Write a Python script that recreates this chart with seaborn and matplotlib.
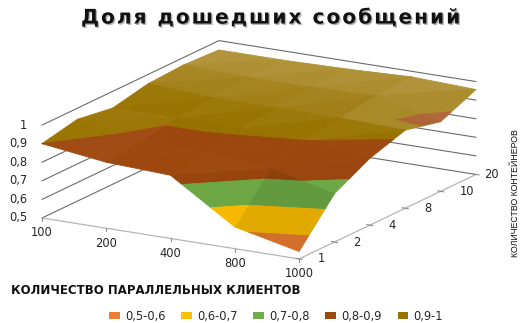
import numpy as np
import matplotlib
matplotlib.use("Agg")
import matplotlib.pyplot as plt
import matplotlib.patheffects as pe
from matplotlib.patches import Patch
from mpl_toolkits.mplot3d import proj3d
from mpl_toolkits.mplot3d.art3d import Poly3DCollection
import seaborn as sns

sns.set_theme(style="white")

# Delivered-message share by client count (columns) and container count (rows)
clients = ["100", "200", "400", "800", "1000"]
containers = ["1", "2", "4", "8", "10", "20"]
share_c1 = [0.90, 0.855, 0.84, 0.617, 0.54]
share_c2 = [0.94, 0.88, 0.87, 0.84, 0.76]
share_c4 = [0.91, 0.91, 0.91, 0.90, 0.86]
share_c8 = [0.95, 0.93, 0.93, 0.93, 0.92]
share_c10 = [0.96, 0.95, 0.95, 0.96, 0.875]
share_c20 = [0.95, 0.95, 0.957, 0.97, 0.957]
z_ticks = [0.5, 0.6, 0.7, 0.8, 0.9, 1.0]
z_labels = ["0,5", "0,6", "0,7", "0,8", "0,9", "1"]
band_edges = [0.5, 0.6, 0.7, 0.8, 0.9, 1.0]
band_labels = ["0,5-0,6", "0,6-0,7", "0,7-0,8", "0,8-0,9", "0,9-1"]
band_colors = ["#ED7D31", "#FFC000", "#70AD47", "#9E480E", "#997300"]

W, H = 523, 323
BOX = np.array([297.0, 354.0, 96.7])
grid = np.array([share_c1, share_c2, share_c4, share_c8, share_c10, share_c20])
nx, ny = len(clients), len(containers)
palette = sns.color_palette(band_colors)


def clip_band(tri, lo, hi):
    """Cut a triangle down to the part lying between two heights."""
    poly = [np.asarray(p, float) for p in tri]
    for level, keep_above in ((lo, True), (hi, False)):
        kept = []
        for a, b in zip(poly, poly[1:] + poly[:1]):
            ina = a[2] >= level if keep_above else a[2] <= level
            inb = b[2] >= level if keep_above else b[2] <= level
            if ina:
                kept.append(a)
            if ina != inb:
                t = (level - a[2]) / (b[2] - a[2])
                kept.append(a + t * (b - a))
        poly = kept
        if not poly:
            return []
    return poly


def facet_color(base, tri):
    """Light a facet from its normal, and fade it towards the back wall."""
    scale = BOX / np.array([nx - 1, ny - 1, 0.5])
    p = np.asarray(tri) * scale
    n = np.cross(p[1] - p[0], p[2] - p[0])
    n = n / np.linalg.norm(n) * np.sign(n[2])
    light = np.array([0.42, 0.62, 0.0])
    s = float(np.dot(n, light)) * 0.55 + 0.02
    c = np.array(base)
    c = c + (1 - c) * s if s > 0 else c * (1 + s)
    depth = np.mean(np.asarray(tri)[:, 1]) / (ny - 1)
    fade = np.clip((depth - 0.45) / 0.55, 0, 1) * 0.24
    return tuple(np.clip(c + (1 - c) * fade, 0, 1))


fig = plt.figure(figsize=(W / 100, H / 100), dpi=100, facecolor="white")
ax = fig.add_axes([0.1, 0.1, 0.8, 0.8], projection="3d", computed_zorder=False)
ax.set_proj_type("ortho")
ax.view_init(elev=16, azim=-60)
ax.set_box_aspect(BOX)
ax.set_xlim(0, nx - 1)
ax.set_ylim(0, ny - 1)
ax.set_zlim(z_ticks[0], z_ticks[-1])
ax.set_axis_off()
ax.patch.set_alpha(0)


def to_pixels(x, y, z):
    ax.M = ax.get_proj()
    u, v, _ = proj3d.proj_transform(x, y, z, ax.M)
    return ax.transData.transform((u, v))


# Fit the axes box so the floor corner and the far top corner fall where wanted
fig.canvas.draw()
target_a = np.array([42.0, H - 218.0])
target_b = np.array([476.0, H - 82.0])
for _ in range(3):
    a = to_pixels(0, 0, 0.5)
    b = to_pixels(nx - 1, ny - 1, 1.0)
    k = (target_b[0] - target_a[0]) / (b[0] - a[0])
    pos = ax.get_position(original=True)
    cx, cy = pos.x0 + pos.width / 2, pos.y0 + pos.height / 2
    w, h = pos.width * k, pos.height * k
    ax.set_position([cx - w / 2, cy - h / 2, w, h])
    fig.canvas.draw()
    a = to_pixels(0, 0, 0.5)
    shift = (target_a - a) / np.array([W, H])
    pos = ax.get_position(original=True)
    ax.set_position([pos.x0 + shift[0], pos.y0 + shift[1], pos.width, pos.height])
    fig.canvas.draw()

# Wall grid lines behind the surface
for z in z_ticks:
    ax.plot([0, 0, nx - 1], [0, ny - 1, ny - 1], [z, z, z], color="#6b6b6b", lw=0.8, zorder=1)
# Floor edges and their tick marks
ax.plot([0, nx - 1, nx - 1], [0, 0, ny - 1], [0.5, 0.5, 0.5], color="#b5b5b5", lw=0.9, zorder=1)
for i in range(nx):
    ax.plot([i, i], [0, 0], [0.5, 0.484], color="#8c8c8c", lw=0.8, zorder=1)
for j in range(ny):
    ax.plot([nx - 1.05, nx - 0.95], [j, j], [0.5, 0.5], color="#8c8c8c", lw=0.8, zorder=1)

# Surface: every grid cell is two triangles, each cut along the band edges
polys, colors = [], []
for j in range(ny - 1):
    for i in range(nx - 1):
        p00 = (i, j, grid[j, i])
        p10 = (i + 1, j, grid[j, i + 1])
        p01 = (i, j + 1, grid[j + 1, i])
        p11 = (i + 1, j + 1, grid[j + 1, i + 1])
        for tri in ((p00, p10, p11), (p00, p11, p01)):
            for b, base in enumerate(palette):
                piece = clip_band(tri, band_edges[b], band_edges[b + 1])
                if len(piece) >= 3:
                    polys.append(piece)
                    colors.append(facet_color(base, tri))
surface = Poly3DCollection(polys, facecolors=colors, edgecolors=colors, linewidths=0.6, zsort="average")
surface.set_zorder(2)
ax.add_collection3d(surface)

tick_font = dict(fontsize=8.3, family="DejaVu Sans", color="#262626", annotation_clip=False)


def label_at(text, point, dx, dy, ha, va="center"):
    x, y, z = point
    u, v, _ = proj3d.proj_transform(x, y, z, ax.get_proj())
    ax.annotate(text, xy=(u, v), xytext=(dx, dy), textcoords="offset pixels", ha=ha, va=va, **tick_font)


for z, text in zip(z_ticks, z_labels):
    label_at(text, (0, 0, z), -15, 0, "right")
for i, text in enumerate(clients):
    label_at(text, (i, 0, 0.5), 0, -15, "center")
for j, text in enumerate(containers):
    label_at(text, (nx - 1, j, 0.5), 8 if j == ny - 1 else 19, 0, "left")

title = "\u200a".join("Доля дошедших сообщений")
fig.text(271 / W, 1 - 18 / H, title, ha="center", va="center", fontsize=14.5,
         fontweight="bold", family="DejaVu Sans", color="#111111",
         path_effects=[pe.withSimplePatchShadow(offset=(1, -1), shadow_rgbFace="#555555", alpha=0.45)])
fig.text(156 / W, 1 - 290 / H, "КОЛИЧЕСТВО ПАРАЛЛЕЛЬНЫХ КЛИЕНТОВ", ha="center", va="center",
         fontsize=8.45, fontweight="bold", family="DejaVu Sans", color="#111111")
fig.text(516 / W, 1 - 193 / H, "КОЛИЧЕСТВО КОНТЕЙНЕРОВ", ha="center", va="center", rotation=90,
         fontsize=6.3, family="Liberation Sans", color="#111111")

handles = [Patch(facecolor=c, edgecolor="none", label=t) for c, t in zip(palette, band_labels)]
fig.legend(handles=handles, loc="center", bbox_to_anchor=(276 / W, 1 - 316.5 / H), ncol=5, frameon=False,
           fontsize=8.3, handlelength=0.95, handleheight=0.55, handletextpad=0.45,
           columnspacing=1.35, borderpad=0, labelcolor="#262626")

fig.savefig("out.png", dpi=100, facecolor="white")
